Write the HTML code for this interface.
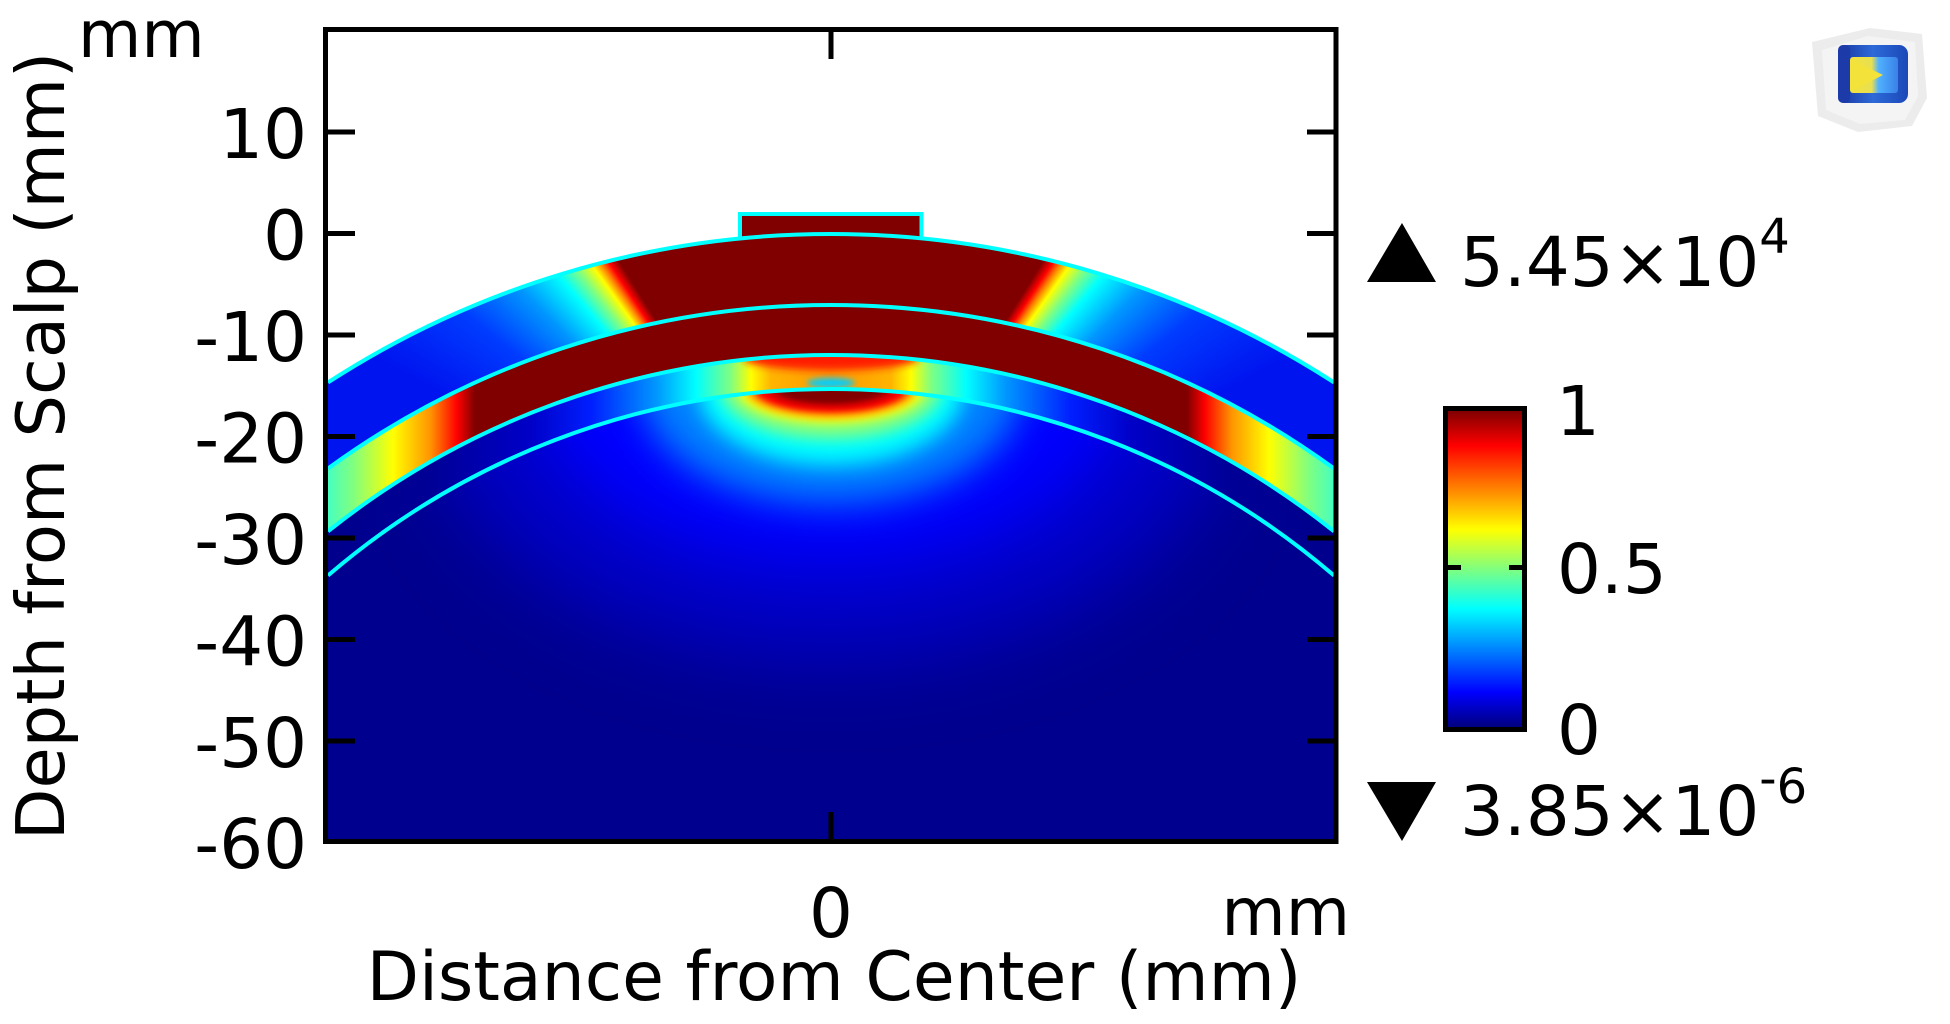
<!DOCTYPE html>
<html>
<head>
<meta charset="utf-8">
<style>
  html, body { margin:0; padding:0; background:#fff; width:1950px; height:1024px; overflow:hidden; }
  body { position:relative; }
  #scalp {
    position:absolute; left:328px; top:32px; width:1006px; height:807px;
    background: conic-gradient(from 0deg at 503px 568px,
      #800000 0deg, #800000 32deg, #ff0000 33.3deg, #ff8000 34.3deg, #ffff00 35.5deg,
      #80ff80 37.5deg, #00ffff 40deg, #0096ff 45deg, #003cff 52deg, #0014f0 62deg,
      #0014f0 298deg, #003cff 308deg, #0096ff 315deg, #00ffff 320deg, #80ff80 322.5deg,
      #ffff00 324.5deg, #ff8000 325.7deg, #ff0000 326.7deg, #800000 328deg, #800000 360deg);
  }
  svg { position:absolute; left:0; top:0; }
</style>
</head>
<body>
<div id="scalp"></div>
<svg width="1950" height="1024" viewBox="0 0 1950 1024" xmlns="http://www.w3.org/2000/svg">
  <defs>
    <clipPath id="plot"><rect x="328" y="32" width="1006" height="807"/></clipPath>
    <clipPath id="brain"><path d="M328,575.52 A771.5,771.5 0 0,1 1334,575.52 L1334,839 L328,839 Z"/></clipPath>
    <clipPath id="csf"><path d="M328,531.36 A805.5,805.5 0 0,1 1334,531.36 L1334,575.52 A771.5,771.5 0 0,0 328,575.52 Z"/></clipPath>
    <clipPath id="skull"><path d="M328,468.5 A855.5,855.5 0 0,1 1334,468.5 L1334,531.36 A805.5,805.5 0 0,0 328,531.36 Z"/></clipPath>

    <linearGradient id="gSkull" gradientUnits="userSpaceOnUse" x1="328" y1="0" x2="1334" y2="0">
      <stop offset="0" stop-color="#46ffc0"/>
      <stop offset="0.0249" stop-color="#80ff80"/>
      <stop offset="0.0646" stop-color="#ffff00"/>
      <stop offset="0.1014" stop-color="#ff9600"/>
      <stop offset="0.1282" stop-color="#ff0000"/>
      <stop offset="0.1461" stop-color="#800000"/>
      <stop offset="0.8539" stop-color="#800000"/>
      <stop offset="0.8718" stop-color="#ff0000"/>
      <stop offset="0.8986" stop-color="#ff9600"/>
      <stop offset="0.9354" stop-color="#ffff00"/>
      <stop offset="0.9751" stop-color="#80ff80"/>
      <stop offset="1" stop-color="#46ffc0"/>
    </linearGradient>

    <linearGradient id="gCsf" gradientUnits="userSpaceOnUse" x1="328" y1="0" x2="1334" y2="0">
      <stop offset="0" stop-color="#00008c"/>
      <stop offset="0.1024" stop-color="#000096"/>
      <stop offset="0.2018" stop-color="#0000c8"/>
      <stop offset="0.2614" stop-color="#001eff"/>
      <stop offset="0.326" stop-color="#0096ff"/>
      <stop offset="0.3658" stop-color="#00ffff"/>
      <stop offset="0.4006" stop-color="#80ff80"/>
      <stop offset="0.4205" stop-color="#ffff00"/>
      <stop offset="0.4404" stop-color="#ffb400"/>
      <stop offset="0.5" stop-color="#ff9600"/>
      <stop offset="0.5596" stop-color="#ffb400"/>
      <stop offset="0.5795" stop-color="#ffff00"/>
      <stop offset="0.5994" stop-color="#80ff80"/>
      <stop offset="0.6342" stop-color="#00ffff"/>
      <stop offset="0.674" stop-color="#0096ff"/>
      <stop offset="0.7386" stop-color="#001eff"/>
      <stop offset="0.7982" stop-color="#0000c8"/>
      <stop offset="0.8976" stop-color="#000096"/>
      <stop offset="1" stop-color="#00008c"/>
    </linearGradient>

    <linearGradient id="gBar" gradientUnits="userSpaceOnUse" x1="0" y1="411" x2="0" y2="727">
      <stop offset="0" stop-color="#800000"/>
      <stop offset="0.11" stop-color="#ff0000"/>
      <stop offset="0.375" stop-color="#ffff00"/>
      <stop offset="0.625" stop-color="#00ffff"/>
      <stop offset="0.89" stop-color="#0000ff"/>
      <stop offset="1" stop-color="#000080"/>
    </linearGradient>

    <linearGradient id="icoBlue" x1="0" y1="0" x2="1" y2="0">
      <stop offset="0" stop-color="#1a36a0"/>
      <stop offset="0.5" stop-color="#2c6ad8"/>
      <stop offset="1" stop-color="#1c48b8"/>
    </linearGradient>
    <linearGradient id="icoIn" x1="0" y1="0" x2="1" y2="0">
      <stop offset="0" stop-color="#f4e23c"/>
      <stop offset="0.45" stop-color="#e8e050"/>
      <stop offset="0.6" stop-color="#50b0ff"/>
      <stop offset="1" stop-color="#3a80e8"/>
    </linearGradient>

    <filter id="b40" x="-50%" y="-50%" width="200%" height="200%"><feGaussianBlur stdDeviation="40"/></filter>
    <filter id="b30" x="-50%" y="-50%" width="200%" height="200%"><feGaussianBlur stdDeviation="30"/></filter>
    <filter id="b18" x="-50%" y="-50%" width="200%" height="200%"><feGaussianBlur stdDeviation="18"/></filter>
    <filter id="b10" x="-50%" y="-50%" width="200%" height="200%"><feGaussianBlur stdDeviation="10"/></filter>
    <filter id="b7" x="-50%" y="-50%" width="200%" height="200%"><feGaussianBlur stdDeviation="7"/></filter>
    <filter id="b5" x="-50%" y="-50%" width="200%" height="200%"><feGaussianBlur stdDeviation="5"/></filter>
    <filter id="b4" x="-50%" y="-50%" width="200%" height="200%"><feGaussianBlur stdDeviation="4"/></filter>
    <filter id="b3" x="-50%" y="-50%" width="200%" height="200%"><feGaussianBlur stdDeviation="3"/></filter>
    <filter id="b2" x="-50%" y="-50%" width="200%" height="200%"><feGaussianBlur stdDeviation="2"/></filter>
  </defs>

  <g clip-path="url(#plot)">
    <!-- white outside head -->
    <path fill="#ffffff" d="M328,32 H1334 V382.43 A926.5,926.5 0 0,0 328,382.43 Z"/>

    <!-- skull -->
    <g clip-path="url(#skull)">
      <rect x="328" y="32" width="1006" height="807" fill="url(#gSkull)"/>
    </g>

    <!-- CSF -->
    <g clip-path="url(#csf)">
      <rect x="328" y="32" width="1006" height="807" fill="url(#gCsf)"/>
      <ellipse cx="831" cy="358" rx="88" ry="12" fill="#ff1e00" filter="url(#b4)"/>
      <ellipse cx="831" cy="383" rx="24" ry="5" fill="#00d0ff" filter="url(#b3)"/>
    </g>

    <!-- brain -->
    <g clip-path="url(#brain)">
      <rect x="328" y="32" width="1006" height="807" fill="#00008e"/>
      <ellipse cx="831" cy="389" rx="400" ry="270" fill="#0000c8" filter="url(#b40)"/>
      <ellipse cx="831" cy="389" rx="290" ry="175" fill="#0000ff" filter="url(#b30)"/>
      <ellipse cx="831" cy="389" rx="190" ry="115" fill="#0080ff" filter="url(#b18)"/>
      <ellipse cx="831" cy="389" rx="133" ry="76" fill="#00ffff" filter="url(#b10)"/>
      <ellipse cx="831" cy="389" rx="110" ry="50" fill="#80ff80" filter="url(#b7)"/>
      <ellipse cx="831" cy="389" rx="94" ry="34" fill="#ffff00" filter="url(#b5)"/>
      <ellipse cx="831" cy="389" rx="84" ry="28" fill="#ff8000" filter="url(#b4)"/>
      <ellipse cx="831" cy="389" rx="76" ry="23" fill="#ff0000" filter="url(#b3)"/>
      <ellipse cx="831" cy="389" rx="64" ry="18" fill="#c00000" filter="url(#b3)"/>
      <ellipse cx="831" cy="389" rx="54" ry="14" fill="#800000" filter="url(#b2)"/>
    </g>

    <!-- electrode -->
    <path d="M740,240 V214 H921.5 V240" fill="#800000" stroke="#00ffff" stroke-width="4"/>

    <!-- boundaries -->
    <g fill="none" stroke="#00ffff" stroke-width="4">
      <path d="M328,382.43 A926.5,926.5 0 0,1 1334,382.43"/>
      <path d="M328,468.5 A855.5,855.5 0 0,1 1334,468.5"/>
      <path d="M328,531.36 A805.5,805.5 0 0,1 1334,531.36"/>
      <path d="M328,575.52 A771.5,771.5 0 0,1 1334,575.52"/>
    </g>
  </g>

  <!-- axes box -->
  <rect x="325.5" y="29.5" width="1010.5" height="812" fill="none" stroke="#000" stroke-width="5"/>

  <!-- ticks -->
  <g stroke="#000" stroke-width="5">
    <line x1="328" y1="132" x2="355" y2="132"/>
    <line x1="328" y1="233.5" x2="355" y2="233.5"/>
    <line x1="328" y1="335" x2="355" y2="335"/>
    <line x1="328" y1="436.5" x2="355" y2="436.5"/>
    <line x1="328" y1="538" x2="355" y2="538"/>
    <line x1="328" y1="639.5" x2="355" y2="639.5"/>
    <line x1="328" y1="741" x2="355" y2="741"/>
    <line x1="1334" y1="132" x2="1307" y2="132"/>
    <line x1="1334" y1="233.5" x2="1307" y2="233.5"/>
    <line x1="1334" y1="335" x2="1307" y2="335"/>
    <line x1="1334" y1="436.5" x2="1307" y2="436.5"/>
    <line x1="1334" y1="538" x2="1307" y2="538"/>
    <line x1="1334" y1="639.5" x2="1307" y2="639.5"/>
    <line x1="1334" y1="741" x2="1307" y2="741"/>
    <line x1="831" y1="32" x2="831" y2="59"/>
    <line x1="831" y1="839" x2="831" y2="812"/>
  </g>

  <!-- colorbar -->
  <rect x="1448" y="411" width="74" height="316" fill="url(#gBar)"/>
  <rect x="1445.5" y="408.5" width="79" height="321" fill="none" stroke="#000" stroke-width="5"/>
  <g stroke="#000" stroke-width="5">
    <line x1="1448" y1="567.5" x2="1461" y2="567.5"/>
    <line x1="1509" y1="567.5" x2="1522" y2="567.5"/>
  </g>

  <!-- triangles -->
  <polygon points="1367,282 1436,282 1402,223" fill="#000"/>
  <polygon points="1367,782 1436,782 1402,841" fill="#000"/>

  <!-- text -->
  <g font-family="'DejaVu Sans','Liberation Sans',sans-serif" fill="#000">
    <g font-size="69" text-anchor="end">
      <text x="307" y="158">10</text>
      <text x="307" y="259.5">0</text>
      <text x="307" y="361">-10</text>
      <text x="307" y="462.5">-20</text>
      <text x="307" y="564">-30</text>
      <text x="307" y="665.5">-40</text>
      <text x="307" y="767">-50</text>
      <text x="307" y="868">-60</text>
    </g>
    <text x="78" y="57" font-size="65">mm</text>
    <text transform="translate(64,446) rotate(-90)" font-size="67" text-anchor="middle">Depth from Scalp (mm)</text>
    <text x="831" y="937" font-size="69" text-anchor="middle">0</text>
    <text x="1350" y="935" font-size="66" text-anchor="end">mm</text>
    <text x="834" y="1000" font-size="68" text-anchor="middle">Distance from Center (mm)</text>

    <g font-size="69">
      <text x="1556" y="435">1</text>
      <text x="1557" y="593">0.5</text>
      <text x="1557" y="754">0</text>
    </g>

    <text x="1460" y="286" font-size="69">5.45×10<tspan font-size="48" dy="-33">4</tspan></text>
    <text x="1460" y="835" font-size="69">3.85×10<tspan font-size="48" dy="-40">-</tspan><tspan font-size="48" dy="8">6</tspan></text>
  </g>

  <!-- icon -->
  <g>
    <polygon points="1812,42 1870,28 1922,34 1927,98 1912,126 1858,132 1818,116" fill="#ececec"/>
    <polygon points="1822,50 1868,36 1915,42 1918,96 1905,120 1860,124 1826,110" fill="#f4f4f4"/>
    <rect x="1838" y="45" width="70" height="58" rx="9" fill="url(#icoBlue)"/>
    <rect x="1850" y="57" width="48" height="36" rx="3" fill="url(#icoIn)"/>
    <polygon points="1852,60 1883,75 1852,91" fill="#f2e23a"/>
    <rect x="1838" y="45" width="12" height="58" rx="5" fill="#1c3aa8"/>
  </g>
</svg>
</body>
</html>
